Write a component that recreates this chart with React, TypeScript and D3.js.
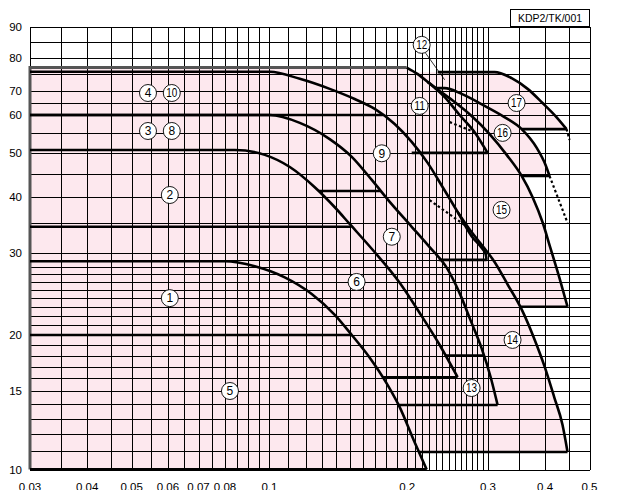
import React from "react";
import * as d3 from "d3";

// ---------- axis ticks ----------
const xTickValues = [0.03, 0.04, 0.05, 0.06, 0.07, 0.08, 0.1, 0.2, 0.3, 0.4, 0.5];
const xTickLabels = ["0.03", "0.04", "0.05", "0.06", "0.07", "0.08", "0.1", "0.2", "0.3", "0.4", "0.5"];
const yTickValues = [10, 15, 20, 30, 40, 50, 60, 70, 80, 90];
const yTickLabels = ["10", "15", "20", "30", "40", "50", "60", "70", "80", "90"];

// ---------- pump curves (flow, head) ----------
const c1Flow = [0.03, 0.0799, 0.0929, 0.108, 0.1237, 0.1389, 0.1513, 0.1656, 0.1803, 0.1925, 0.2065, 0.2205];
const c1Head = [28.8, 28.8, 28.1, 26.6, 24.5, 22.1, 20.0, 17.8, 15.6, 13.8, 11.65, 10.0];

const c2Flow = [0.03, 0.0841, 0.0977, 0.1108, 0.1256, 0.1389, 0.1497, 0.168, 0.1925, 0.2129, 0.2354, 0.2576];
const c2Head = [50.8, 50.8, 49.6, 46.6, 42.0, 37.9, 34.8, 30.5, 25.9, 22.3, 19.0, 16.1];

const c3Flow = [0.03, 0.1002, 0.1165, 0.1354, 0.1513, 0.1673, 0.1849, 0.2045, 0.2238, 0.2438, 0.2602, 0.275, 0.2906, 0.3042, 0.315];
const c3Head = [60, 60, 57.8, 53.5, 49.1, 43.6, 38.5, 34.3, 30.9, 27.9, 24.6, 21.5, 18.7, 16.1, 13.95];

const c10Flow = [0.03, 0.1002, 0.1165, 0.1354, 0.1535, 0.1698, 0.1877, 0.2045, 0.2216, 0.239, 0.2576, 0.2764, 0.2906, 0.2966, 0.298];
const c10Head = [75.6, 75.6, 73.5, 70.6, 66.5, 62.4, 57.5, 52.8, 47.6, 42.0, 37.0, 32.7, 30.8, 29.85, 29.0];

const c11Flow = [0.03, 0.1994, 0.2108, 0.2216, 0.2414, 0.2602, 0.2806, 0.2995];
const c11Head = [76.9, 76.9, 74.9, 72.6, 67.3, 60, 55.3, 50.1];

const c14Flow = [0.2576, 0.275, 0.2921, 0.3102, 0.3311, 0.3555, 0.3774, 0.399, 0.419, 0.4365, 0.4477];
const c14Head = [37.0, 33.6, 31.1, 28.7, 25.7, 22.7, 19.8, 17.0, 14.5, 12.6, 10.95];

const c15Flow = [0.2216, 0.2354, 0.2538, 0.2764, 0.3026, 0.3297, 0.3555, 0.3756, 0.3949, 0.4107, 0.43, 0.4477];
const c15Head = [72.6, 70.0, 65.2, 59.7, 54.8, 49.6, 44.5, 39.9, 35.1, 30.8, 26.5, 23.0];

const c16Flow = [0.2295, 0.2414, 0.2629, 0.2951, 0.326, 0.3555, 0.3835, 0.4009, 0.409];
const c16Head = [70.8, 70.8, 68.7, 63.6, 59.4, 56.1, 51.3, 47.1, 44.5];

const c17Flow = [0.233, 0.3102, 0.338, 0.3663, 0.3949, 0.4215, 0.4455];
const c17Head = [75.5, 75.5, 73.7, 70.6, 64.8, 59.7, 56.1];

// ---------- horizontal limit lines ----------
const limitHead = [60, 34.3, 20, 41.2, 29.0, 50.1, 18.0, 16.1, 13.95, 10.95, 23.0, 44.5, 56.1];
const limitFrom = [0.03, 0.03, 0.03, 0.1282, 0.2342, 0.2045, 0.2426, 0.1768, 0.1915, 0.2118, 0.3537, 0.3555, 0.3555];
const limitTo = [0.1768, 0.151, 0.1513, 0.175, 0.298, 0.2995, 0.2936, 0.2576, 0.315, 0.4477, 0.4477, 0.409, 0.4455];

// ---------- dotted extensions ----------
const dotAFlow = [0.2475, 0.2806];
const dotAHead = [58.0, 55.3];
const dotBFlow = [0.2238, 0.2723];
const dotBHead = [39.3, 34.1];
const dotCFlow = [0.409, 0.4477];
const dotCHead = [44.5, 35.0];
const dotDFlow = [0.4455, 0.4524];
const dotDHead = [56.1, 53.3];

// ---------- circled region numbers ----------
const regionNums = ["1", "2", "3", "8", "4", "10", "5", "6", "7", "9", "11", "12", "13", "14", "15", "16", "17"];
const regionFlow = [0.0606, 0.0606, 0.0543, 0.0612, 0.0543, 0.0612, 0.082, 0.155, 0.185, 0.1759, 0.2129, 0.215, 0.2764, 0.3396, 0.3213, 0.323, 0.3465];
const regionHead = [24.0, 40.35, 55.6, 55.6, 69.1, 69.1, 15, 26.0, 32.6, 50.0, 63.6, 84.0, 15.23, 19.5, 37.4, 55.1, 64.8];

const leaderFlow = [0.2193, 0.2414];
const leaderHead = [81.4, 73.2];

const zip = (a: number[], b: number[]) => a.map((v, i) => [v, b[i]] as [number, number]);

const curves = [
  zip(c1Flow, c1Head),
  zip(c2Flow, c2Head),
  zip(c3Flow, c3Head),
  zip(c10Flow, c10Head),
  zip(c11Flow, c11Head),
  zip(c14Flow, c14Head),
  zip(c15Flow, c15Head),
  zip(c16Flow, c16Head),
  zip(c17Flow, c17Head),
];

export default function App() {
  const W = 620;
  const H = 498;
  const x = d3.scaleLog().domain([0.03, 0.5]).range([30, 589.5]);
  const y = d3
    .scaleLog()
    .domain(yTickValues)
    .range([469.5, 391, 335, 253, 196.7, 153.3, 115, 91, 57.7, 26.7]);

  const line = d3
    .line<[number, number]>()
    .x((d) => x(d[0]))
    .y((d) => y(d[1]))
    .curve(d3.curveMonotoneX);
  const straight = d3
    .line<[number, number]>()
    .x((d) => x(d[0]))
    .y((d) => y(d[1]));

  const xGrid = [
    ...d3.range(30, 100, 5).map((v) => v / 1000),
    ...d3.range(10, 20).map((v) => v / 100),
    ...d3.range(0, 13).map((i) => 0.2 + (i * 0.1) / 13),
    ...d3.range(30, 51, 5).map((v) => v / 100),
  ];
  const yGrid = [...d3.range(10, 30), ...d3.range(30, 95, 5)];
  const crisp = (v: number) => Math.round(v) + 0.5;

  const regionPath = (pts: [number, number][]) => {
    const last = pts[pts.length - 1];
    const first = pts[0];
    const head = `M${x(0.03)},${y(last[1])}L${x(0.03)},${y(first[1])}L${x(first[0])},${y(first[1])}`;
    return head + (line(pts) || "").replace(/^M/, "L") + "Z";
  };

  const pink = "#fde8ee";
  const font = "'Liberation Sans', Arial, Helvetica, sans-serif";

  return (
    <svg width={W} height={H} viewBox={`0 0 ${W} ${H}`} style={{ display: "block", margin: "-8px" }}>
      <rect x={0} y={0} width={W} height={H} fill="#fff" />
      {curves.map((c, i) => (
        <path key={"r" + i} d={regionPath(c)} fill={pink} stroke="none" />
      ))}
      <g stroke="#000" strokeWidth={1} shapeRendering="crispEdges">
        {xGrid.map((v, i) => (
          <line key={"gx" + i} x1={crisp(x(v))} x2={crisp(x(v))} y1={y(90)} y2={y(10)} />
        ))}
        {yGrid.map((v, i) => (
          <line key={"gy" + i} x1={x(0.03)} x2={x(0.5)} y1={crisp(y(v))} y2={crisp(y(v))} />
        ))}
      </g>
      <path
        d={straight([
          [0.03, 10],
          [0.03, c11Head[0]],
          [c11Flow[1], c11Head[1]],
        ])}
        fill="none"
        stroke="#555"
        strokeWidth={3}
      />
      <g fill="none" stroke="#000" strokeWidth={2.6} strokeLinejoin="round">
        {curves.map((c, i) => (
          <path key={"c" + i} d={line(i === 4 ? c.slice(1) : c) || ""} />
        ))}
        {limitHead.map((h, i) => (
          <line key={"l" + i} x1={x(limitFrom[i])} x2={x(limitTo[i])} y1={y(h)} y2={y(h)} />
        ))}
        <line x1={x(0.03)} x2={x(c1Flow[c1Flow.length - 1])} y1={y(10)} y2={y(10)} strokeWidth={3} />
      </g>
      <g fill="none" stroke="#000" strokeWidth={2.2} strokeDasharray="2.5 2.5">
        {[zip(dotAFlow, dotAHead), zip(dotBFlow, dotBHead), zip(dotCFlow, dotCHead), zip(dotDFlow, dotDHead)].map((d, i) => (
          <path key={"d" + i} d={straight(d) || ""} />
        ))}
      </g>
      <path d={straight(zip(leaderFlow, leaderHead)) || ""} stroke="#000" strokeWidth={0.8} fill="none" />
      {regionNums.map((n, i) => {
        const cx = x(regionFlow[i]);
        const cy = y(regionHead[i]);
        return (
          <g key={"n" + i}>
            <circle cx={cx} cy={cy} r={8.5} fill="#fff" stroke="#000" strokeWidth={0.9} />
            <text
              x={cx}
              y={cy + 4.2}
              textAnchor="middle"
              fontFamily={font}
              fontSize={12}
              {...(n.length > 1 ? { textLength: 11, lengthAdjust: "spacingAndGlyphs" } : {})}
            >
              {n}
            </text>
          </g>
        );
      })}
      <g fontFamily={font} fontSize={11.5} fill="#000">
        {xTickValues.map((v, i) => (
          <text key={"xt" + i} x={x(v)} y={491} textAnchor="middle">
            {xTickLabels[i]}
          </text>
        ))}
        {yTickValues.map((v, i) => (
          <text key={"yt" + i} x={22} y={y(v) + 4} textAnchor="end">
            {yTickLabels[i]}
          </text>
        ))}
      </g>
      <rect x={510.5} y={9.5} width={79} height={17} fill="#fff" stroke="#000" strokeWidth={1} />
      <text x={550} y={22} textAnchor="middle" fontFamily={font} fontSize={10.5}>
        KDP2/TK/001
      </text>
    </svg>
  );
}
